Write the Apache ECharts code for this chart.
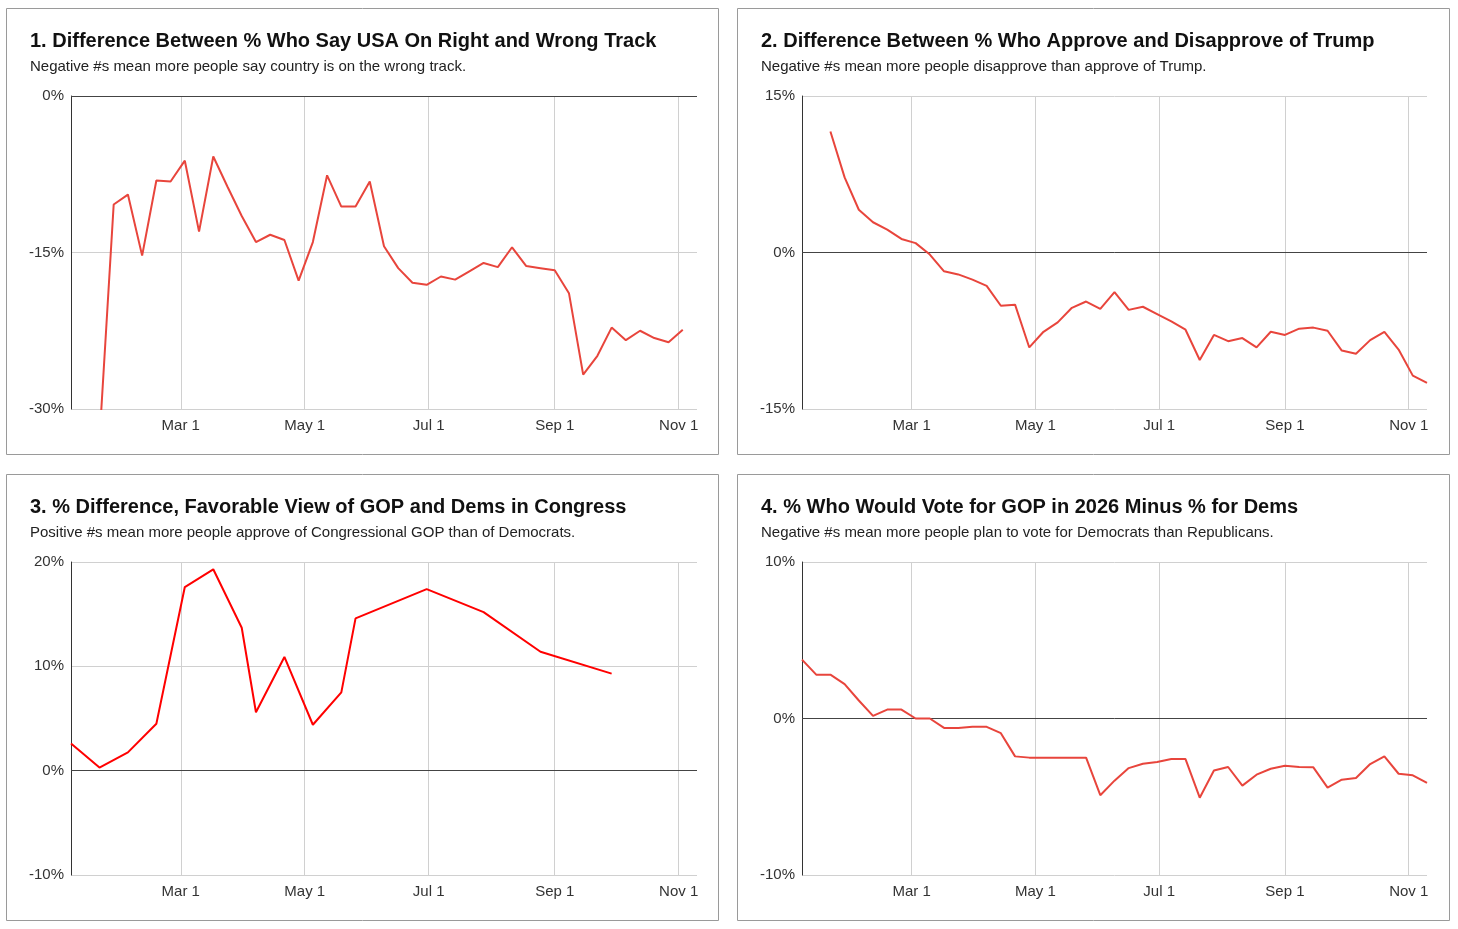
<!DOCTYPE html>
<html>
<head>
<meta charset="utf-8">
<script src="https://cdn.jsdelivr.net/npm/echarts@6.0.0/dist/echarts.min.js"></script>
<style>
html, body { margin: 0; padding: 0; background: #fff; }
#chart { width: 1458px; height: 929px; }
</style>
</head>
<body>
<div id="chart"></div>
<script>
// ---------- DATA ----------
const tickDates = ['2025-03-01', '2025-05-01', '2025-07-01', '2025-09-01', '2025-11-01'];
const tickLabels = ['Mar 1', 'May 1', 'Jul 1', 'Sep 1', 'Nov 1'];
const axisStart = '2025-01-06';
const axisEnd = '2025-11-10';

const trackDates = ['2025-01-20','2025-01-27','2025-02-03','2025-02-10','2025-02-17','2025-02-24',
  '2025-03-03','2025-03-10','2025-03-17','2025-03-24','2025-03-31','2025-04-07','2025-04-14',
  '2025-04-21','2025-04-28','2025-05-05','2025-05-12','2025-05-19','2025-05-26','2025-06-02',
  '2025-06-09','2025-06-16','2025-06-23','2025-06-30','2025-07-07','2025-07-14','2025-07-21',
  '2025-07-28','2025-08-04','2025-08-11','2025-08-18','2025-08-25','2025-09-01','2025-09-08',
  '2025-09-15','2025-09-22','2025-09-29','2025-10-06','2025-10-13','2025-10-20','2025-10-27',
  '2025-11-03'];
const trackValues = [-33, -10.4, -9.45, -15.3, -8.1, -8.2, -6.2, -13.0, -5.8, -8.7, -11.5, -14.0,
  -13.3, -13.8, -17.7, -14.0, -7.6, -10.6, -10.6, -8.2, -14.4, -16.5, -17.9, -18.1, -17.3, -17.6,
  -16.8, -16.0, -16.4, -14.5, -16.3, -16.5, -16.7, -18.9, -26.7, -24.9, -22.2, -23.4, -22.5,
  -23.2, -23.6, -22.4];

const approvalDates = ['2025-01-20','2025-01-27','2025-02-03','2025-02-10','2025-02-17','2025-02-24',
  '2025-03-03','2025-03-10','2025-03-17','2025-03-24','2025-03-31','2025-04-07','2025-04-14',
  '2025-04-21','2025-04-28','2025-05-05','2025-05-12','2025-05-19','2025-05-26','2025-06-02',
  '2025-06-09','2025-06-16','2025-06-23','2025-06-30','2025-07-07','2025-07-14','2025-07-21',
  '2025-07-28','2025-08-04','2025-08-11','2025-08-18','2025-08-25','2025-09-01','2025-09-08',
  '2025-09-15','2025-09-22','2025-09-29','2025-10-06','2025-10-13','2025-10-20','2025-10-27',
  '2025-11-03','2025-11-10'];
const approvalValues = [11.6, 7.2, 4.1, 2.9, 2.2, 1.3, 0.9, -0.2, -1.8, -2.1, -2.6, -3.2, -5.1,
  -5.0, -9.1, -7.6, -6.7, -5.3, -4.7, -5.4, -3.8, -5.5, -5.2, -5.9, -6.6, -7.4, -10.3, -7.9,
  -8.5, -8.2, -9.1, -7.6, -7.9, -7.3, -7.2, -7.5, -9.4, -9.7, -8.4, -7.6, -9.3, -11.8, -12.5];

const congressDates = ['2025-01-06','2025-01-20','2025-02-03','2025-02-17','2025-03-03','2025-03-17',
  '2025-03-31','2025-04-07','2025-04-21','2025-05-05','2025-05-19','2025-05-26','2025-06-30',
  '2025-07-28','2025-08-25','2025-09-29'];
const congressValues = [2.6, 0.3, 1.75, 4.5, 17.6, 19.3, 13.7, 5.6, 10.9, 4.4, 7.5, 14.6, 17.4,
  15.2, 11.4, 9.3];

const ballotDates = ['2025-01-06','2025-01-13','2025-01-20','2025-01-27','2025-02-03','2025-02-10',
  '2025-02-17','2025-02-24','2025-03-03','2025-03-10','2025-03-17','2025-03-24','2025-03-31',
  '2025-04-07','2025-04-14','2025-04-21','2025-04-28','2025-05-05','2025-05-12','2025-05-19',
  '2025-05-26','2025-06-02','2025-06-09','2025-06-16','2025-06-23','2025-06-30','2025-07-07',
  '2025-07-14','2025-07-21','2025-07-28','2025-08-04','2025-08-11','2025-08-18','2025-08-25',
  '2025-09-01','2025-09-08','2025-09-15','2025-09-22','2025-09-29','2025-10-06','2025-10-13',
  '2025-10-20','2025-10-27','2025-11-03','2025-11-10'];
const ballotValues = [3.76, 2.8, 2.8, 2.2, 1.15, 0.17, 0.57, 0.57, 0, 0, -0.6, -0.6, -0.53, -0.53,
  -0.94, -2.42, -2.5, -2.5, -2.5, -2.5, -2.5, -4.9, -3.97, -3.17, -2.89, -2.78, -2.59, -2.59,
  -5.06, -3.32, -3.10, -4.29, -3.59, -3.21, -3.02, -3.10, -3.12, -4.42, -3.91, -3.80, -2.91,
  -2.42, -3.53, -3.63, -4.12];

const titles = [
  '1. Difference Between % Who Say USA On Right and Wrong Track',
  '2. Difference Between % Who Approve and Disapprove of Trump',
  '3. % Difference, Favorable View of GOP and Dems in Congress',
  '4. % Who Would Vote for GOP in 2026 Minus % for Dems'
];
const subtitles = [
  'Negative #s mean more people say country is on the wrong track.',
  'Negative #s mean more people disapprove than approve of Trump.',
  'Positive #s mean more people approve of Congressional GOP than of Democrats.',
  'Negative #s mean more people plan to vote for Democrats than Republicans.'
];
const yMins = [-30, -15, -10, -10];
const yMaxs = [0, 15, 20, 10];
const yIntervals = [15, 15, 10, 10];

// ---------- BUILD ----------
function ts(s) { const p = s.split('-'); return new Date(+p[0], +p[1] - 1, +p[2]).getTime(); }
const tickTs = tickDates.map(ts);
function pairs(dates, vals) { return dates.map((d, i) => [ts(d), vals[i]]); }

const seriesData = [
  pairs(trackDates, trackValues),
  pairs(approvalDates, approvalValues),
  pairs(congressDates, congressValues),
  pairs(ballotDates, ballotValues)
];
const lineColors = ['#e8453c', '#e8453c', '#ff0000', '#e8453c'];

const FONT = '"Liberation Sans", Arial, Helvetica, sans-serif';
const boxes = [
  { x: 6, y: 8 }, { x: 737, y: 8 }, { x: 6, y: 474 }, { x: 737, y: 474 }
];
const grids = [
  { left: 71, top: 96, width: 626, height: 313 },
  { left: 802, top: 96, width: 625, height: 313 },
  { left: 71, top: 562, width: 626, height: 313 },
  { left: 802, top: 562, width: 625, height: 313 }
];

const option = {
  animation: false,
  backgroundColor: '#ffffff',
  graphic: boxes.map(b => ({
    type: 'rect', z: -10, silent: true,
    shape: { x: b.x + 0.5, y: b.y + 0.5, width: 712, height: 446 },
    style: { fill: '#ffffff', stroke: '#9a9a9a', lineWidth: 1 }
  })),
  title: [].concat(
    titles.map((t, i) => ({
      text: t, left: boxes[i].x + 24, top: boxes[i].y + 23, padding: 0,
      textStyle: { fontFamily: FONT, fontSize: 20, fontWeight: 'bold', color: '#111' }
    })),
    subtitles.map((t, i) => ({
      text: t, left: boxes[i].x + 24, top: boxes[i].y + 51, padding: 0,
      textStyle: { fontFamily: FONT, fontSize: 15, fontWeight: 'normal', color: '#222' }
    }))
  ),
  grid: grids.map(g => Object.assign({ containLabel: false }, g)),
  xAxis: grids.map((g, i) => ({
    type: 'value', gridIndex: i, scale: true,
    min: ts(axisStart), max: ts(axisEnd),
    axisLine: { show: false },
    axisTick: { show: false, customValues: tickTs },
    axisLabel: {
      customValues: tickTs, margin: 9, color: '#333', fontSize: 15, fontFamily: FONT,
      formatter: function (v) { const k = tickTs.indexOf(v); return k >= 0 ? tickLabels[k] : ''; }
    },
    splitLine: { show: true, lineStyle: { color: '#d0d0d0', width: 1 } }
  })),
  yAxis: grids.map((g, i) => ({
    type: 'value', gridIndex: i,
    min: yMins[i], max: yMaxs[i], interval: yIntervals[i],
    axisLine: { show: true, onZero: false, lineStyle: { color: '#333', width: 1 } },
    axisTick: { show: false },
    axisLabel: { margin: 7, color: '#333', fontSize: 15, fontFamily: FONT, formatter: '{value}%' },
    splitLine: { show: true, lineStyle: { color: '#d0d0d0', width: 1 } }
  })),
  series: seriesData.map((d, i) => ({
    type: 'line', xAxisIndex: i, yAxisIndex: i,
    data: d, showSymbol: false, clip: true,
    lineStyle: { color: lineColors[i], width: 2 },
    itemStyle: { color: lineColors[i] },
    z: 3,
    markLine: {
      silent: true, symbol: ['none', 'none'], label: { show: false }, z: 2,
      lineStyle: { color: '#444', type: 'solid', width: 1 },
      emphasis: { disabled: true },
      data: [{ yAxis: 0 }]
    }
  }))
};

const chart = echarts.init(document.getElementById('chart'), null, { renderer: 'canvas' });
chart.setOption(option);
</script>
</body>
</html>
